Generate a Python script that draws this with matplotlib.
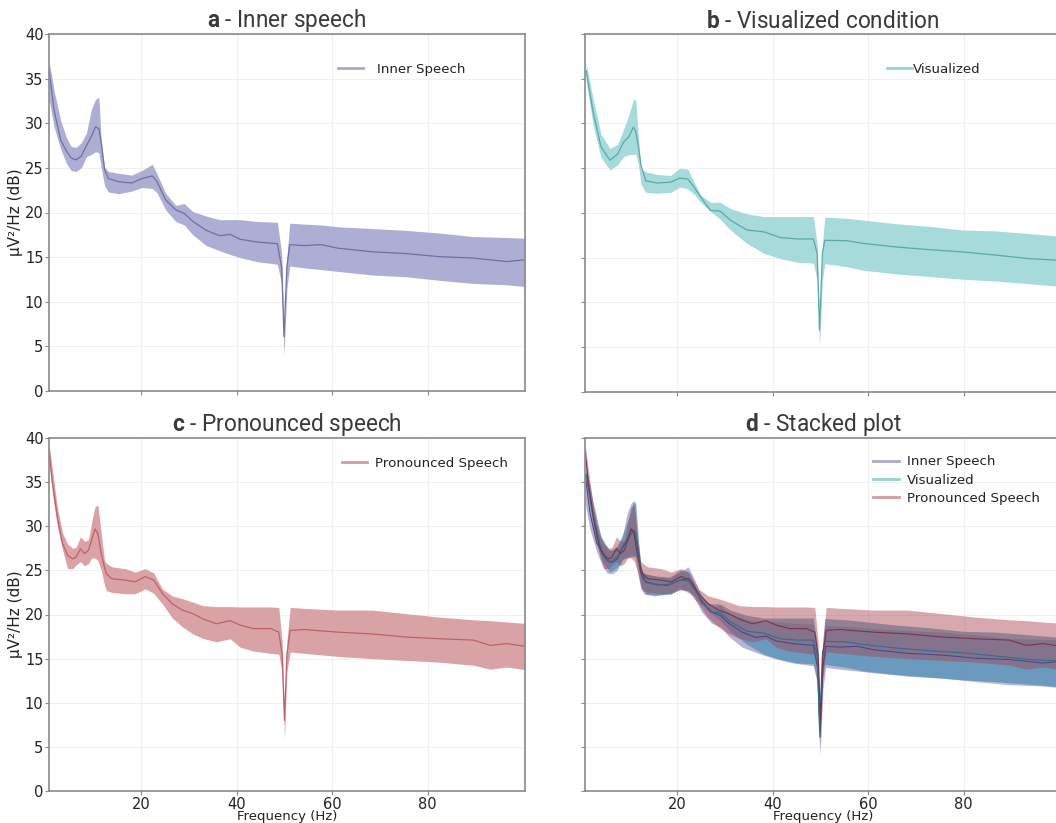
import numpy as np
import matplotlib
matplotlib.use('Agg')
import matplotlib.pyplot as plt
from matplotlib.lines import Line2D

plt.rcParams['mathtext.fontset'] = 'custom'
plt.rcParams['mathtext.rm'] = 'Roboto'
plt.rcParams['mathtext.bf'] = 'Roboto:bold'

# PSD readings (Hz, dB) for each condition: mean and the shaded band
freq_inner = [0.7, 1.7, 3.1, 4.3, 5.3, 6.3, 7.4, 8.5, 9.5, 10.4, 11.1, 11.6, 12.3, 13.1,
              15.2, 18.0, 20.1, 22.3, 23.3, 25.1, 27.2, 29.0, 30.8, 33.6, 36.4, 38.6,
              40.7, 44.2, 48.5, 49.4, 49.9, 50.5, 51.1, 54.1, 57.7, 61.2, 68.3, 75.4,
              82.5, 89.5, 96.6, 100.4]
mean_inner = [35.8, 31.5, 28.1, 26.9, 26.1, 25.9, 26.3, 27.5, 28.5, 29.6, 29.4, 27.8, 24.8, 23.8,
              23.45, 23.3, 23.8, 24.1, 23.45, 21.4, 20.3, 19.9, 19.0, 18.0, 17.4, 17.55,
              17.0, 16.7, 16.5, 13.9, 6.1, 13.9, 16.4, 16.3, 16.4, 16.0, 15.6, 15.4,
              15.05, 14.9, 14.5, 14.7]
upper_inner = [36.9, 33.7, 30.3, 28.4, 27.4, 27.3, 27.8, 28.9, 31.5, 32.7, 32.9, 28.0, 25.1, 24.6,
               24.4, 24.2, 24.7, 25.4, 24.3, 22.15, 20.8, 21.0, 20.1, 19.6, 19.2, 19.2,
               19.2, 19.0, 18.9, 15.5, 7.0, 15.0, 18.8, 18.7, 18.6, 18.4, 18.2, 18.0,
               17.7, 17.3, 17.2, 17.1]
lower_inner = [32.6, 29.6, 27.1, 25.5, 24.7, 24.6, 25.0, 26.25, 26.5, 26.8, 26.7, 25.0, 23.0, 22.3,
               22.1, 22.4, 22.8, 22.7, 22.2, 20.3, 19.0, 18.6, 17.5, 16.3, 15.7, 15.3,
               14.95, 14.5, 14.2, 12.0, 4.0, 11.5, 14.0, 13.8, 13.6, 13.4, 13.0, 12.8,
               12.4, 12.05, 11.9, 11.7]

freq_vis = [0.9, 2.3, 4.0, 5.9, 7.5, 8.7, 9.8, 10.8, 11.3, 11.8, 12.4, 13.4, 15.8, 18.6,
            20.5, 22.2, 23.5, 24.9, 26.9, 29.0, 31.1, 34.6, 38.1, 41.6, 45.2, 48.5,
            49.3, 49.8, 50.4, 50.9, 55.5, 59.0, 65.9, 72.9, 79.8, 86.7, 93.7, 100.4]
mean_vis = [35.9, 31.4, 27.4, 25.9, 26.6, 27.9, 28.5, 29.6, 29.1, 27.5, 25.3, 23.6, 23.35, 23.45,
            23.9, 23.8, 22.9, 21.8, 20.3, 20.2, 19.2, 18.1, 17.9, 17.25, 17.1, 17.1,
            15.5, 6.9, 15.5, 16.95, 16.9, 16.6, 16.2, 15.9, 15.65, 15.3, 14.9, 14.7]
upper_vis = [36.7, 32.9, 28.8, 27.2, 27.7, 29.3, 30.9, 32.7, 32.6, 28.85, 24.9, 24.6, 24.3, 24.2,
             25.0, 24.9, 23.45, 22.0, 21.2, 21.2, 20.5, 19.9, 19.6, 19.6, 19.6, 19.6,
             16.5, 8.0, 16.5, 19.55, 19.4, 19.2, 18.8, 18.5, 18.1, 18.0, 17.7, 17.4]
lower_vis = [34.8, 30.0, 26.2, 24.8, 25.4, 26.3, 26.5, 26.55, 26.6, 25.5, 23.2, 22.3, 22.2, 22.3,
             22.9, 22.7, 22.1, 21.2, 20.2, 19.3, 18.1, 16.6, 15.5, 14.9, 14.5, 14.4,
             12.5, 5.05, 12.5, 14.35, 14.0, 13.6, 13.2, 12.9, 12.6, 12.4, 12.1, 11.8]

freq_pron = [0.66, 1.4, 2.4, 3.5, 4.55, 5.6, 6.3, 7.25, 8.1, 8.95, 9.6, 10.3, 10.9, 11.6,
             12.3, 12.7, 13.8, 16.6, 18.7, 20.8, 22.6, 24.4, 26.5, 28.6, 30.8, 32.9,
             35.7, 38.6, 40.7, 43.5, 47.1, 48.8, 49.5, 50.0, 50.5, 51.2, 54.1, 61.2,
             68.3, 75.4, 82.5, 89.6, 93.1, 96.6, 100.4]
mean_pron = [38.6, 34.8, 31.0, 28.0, 26.7, 26.3, 26.5, 27.45, 26.9, 27.3, 28.5, 29.7, 29.15, 26.9,
             25.3, 24.6, 24.05, 23.9, 23.7, 24.3, 23.9, 22.4, 21.2, 20.5, 20.1, 19.5,
             18.95, 19.3, 18.8, 18.4, 18.4, 18.0, 15.5, 8.0, 15.5, 18.2, 18.3, 18.0,
             17.8, 17.45, 17.25, 17.1, 16.5, 16.7, 16.4]
upper_pron = [39.35, 36.2, 32.2, 29.2, 28.0, 27.5, 27.6, 28.8, 28.3, 28.5, 30.5, 32.2, 32.4, 29.15,
              26.1, 25.8, 25.4, 25.2, 24.8, 25.2, 24.7, 22.9, 22.1, 21.8, 21.4, 21.0,
              20.9, 20.9, 20.85, 20.85, 20.85, 20.8, 17.0, 8.8, 17.0, 20.8, 20.7, 20.5,
              20.5, 20.1, 19.7, 19.4, 19.3, 19.15, 19.0]
lower_pron = [37.3, 33.6, 30.0, 27.3, 25.2, 25.2, 25.6, 26.0, 25.5, 25.8, 26.4, 26.4, 26.1, 25.0,
              23.3, 22.7, 22.5, 22.35, 22.35, 22.9, 22.4, 21.2, 19.6, 18.6, 17.8, 17.3,
              16.9, 17.25, 16.3, 15.85, 15.6, 15.5, 13.5, 5.9, 13.5, 15.75, 15.6, 15.25,
              15.0, 14.8, 14.6, 14.25, 13.8, 14.05, 13.75]

labels = ['Inner Speech', 'Visualized', 'Pronounced Speech']
legend_colors = ['#a9a9d2', '#92d3d3', '#d59c9e']

fig = plt.figure(figsize=(10.56, 8.23), dpi=100)
W, H = 1056, 823


def make_ax(left, top, right, bottom):
    return fig.add_axes([left / W, 1 - bottom / H, (right - left) / W, (bottom - top) / H])


ax_a = make_ax(49, 34, 525, 391)
ax_b = make_ax(585, 34, 1061, 392)
ax_c = make_ax(49, 438, 525, 791)
ax_d = make_ax(585, 438, 1061, 791)

for ax in [ax_a, ax_b, ax_c, ax_d]:
    ax.set_xlim(0.65, 100.4)
    ax.set_ylim(0, 40)
    ax.set_xticks([20, 40, 60, 80])
    ax.set_yticks(range(0, 41, 5))
    ax.set_axisbelow(True)
    ax.grid(True, color='#f0f0f0', linewidth=0.8)
    for s in ax.spines.values():
        s.set_color('#8a8a8a')
        s.set_linewidth(1.2)
    ax.tick_params(length=3, width=0.8, color='#8a8a8a', labelsize=10.5, labelcolor='#222222', pad=1)

for ax in [ax_a, ax_b]:
    ax.tick_params(labelbottom=False)
for ax in [ax_b, ax_d]:
    ax.tick_params(labelleft=False)
for ax in [ax_a, ax_c]:
    ax.set_ylabel('µV²/Hz (dB)', fontsize=11, color='#222222')
    ax.yaxis.set_label_coords(-0.054, 0.5)
for ax in [ax_c, ax_d]:
    ax.set_xlabel('Frequency (Hz)', fontsize=9.5, color='#222222', labelpad=-1)

titles = [r'$\bf{a}$ - Inner speech', r'$\bf{b}$ - Visualized condition',
          r'$\bf{c}$ - Pronounced speech', r'$\bf{d}$ - Stacked plot']
for ax, t in zip([ax_a, ax_b, ax_c, ax_d], titles):
    ax.set_title(t, fontsize=16.3, family='Roboto', color='#3a3a3a', pad=4)

# single panels
ax_a.fill_between(freq_inner, lower_inner, upper_inner, color='#aeaed4', linewidth=0)
ax_a.plot(freq_inner, mean_inner, color='#6f6fa3', linewidth=0.9)
ax_b.fill_between(freq_vis, lower_vis, upper_vis, color='#a6dadb', linewidth=0)
ax_b.plot(freq_vis, mean_vis, color='#5aa9a9', linewidth=0.9)
ax_c.fill_between(freq_pron, lower_pron, upper_pron, color='#d9a3a6', linewidth=0)
ax_c.plot(freq_pron, mean_pron, color='#bf5f68', linewidth=0.9)

# stacked panel
ax_d.fill_between(freq_inner, lower_inner, upper_inner, color='#8c7fc0', alpha=0.6, linewidth=0)
ax_d.fill_between(freq_vis, lower_vis, upper_vis, color='#3f90b2', alpha=0.65, linewidth=0)
ax_d.fill_between(freq_pron, lower_pron, upper_pron, color='#a8404e', alpha=0.45, linewidth=0)
ax_d.plot(freq_inner, mean_inner, color='#4a4a86', linewidth=0.8)
ax_d.plot(freq_vis, mean_vis, color='#2f6f8f', linewidth=0.8)
ax_d.plot(freq_pron, mean_pron, color='#7d3444', linewidth=0.8)


def handles(idx):
    return [Line2D([], [], color=legend_colors[i], linewidth=2) for i in idx]


leg_kw = dict(frameon=False, fontsize=9.6, handlelength=1.9, labelcolor='#222222',
              borderaxespad=0)
ax_a.legend(handles([0]), [labels[0]], loc='upper right', bbox_to_anchor=(0.885, 0.935),
            handletextpad=1.0, **leg_kw)
ax_b.legend(handles([1]), [labels[1]], loc='upper right', bbox_to_anchor=(0.843, 0.935),
            handletextpad=0.1, **leg_kw)
ax_c.legend(handles([2]), [labels[2]], loc='upper right', bbox_to_anchor=(0.975, 0.962),
            handletextpad=0.6, **leg_kw)
ax_d.legend(handles([0, 1, 2]), labels, loc='upper right', bbox_to_anchor=(0.966, 0.966),
            handletextpad=0.6, labelspacing=0.4, **leg_kw)

fig.savefig('out.png', dpi=100)
